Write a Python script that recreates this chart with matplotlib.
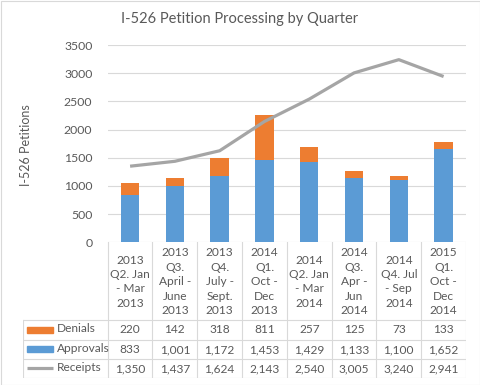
import numpy as np
import matplotlib.pyplot as plt
from matplotlib.patches import Rectangle

quarters = ["2013\nQ2. Jan\n- Mar\n2013", "2013\nQ3.\nApril -\nJune\n2013",
            "2013\nQ4.\nJuly -\nSept.\n2013", "2014\nQ1.\nOct -\nDec\n2013",
            "2014\nQ2. Jan\n- Mar\n2014", "2014\nQ3.\nApr -\nJun\n2014",
            "2014\nQ4. Jul\n- Sep\n2014", "2015\nQ1.\nOct -\nDec\n2014"]
denials = [220, 142, 318, 811, 257, 125, 73, 133]
approvals = [833, 1001, 1172, 1453, 1429, 1133, 1100, 1652]
receipts = [1350, 1437, 1624, 2143, 2540, 3005, 3240, 2941]

blue = "#5B9BD5"
orange = "#ED7D31"
gray = "#A5A5A5"
txt = "#595959"
grid = "#D9D9D9"

plt.rcParams['font.family'] = ['Lato', 'DejaVu Sans']

W, H = 481, 385
fig = plt.figure(figsize=(W / 100, H / 100), dpi=100)


def box(x0, y0, x1, y1):
    return [x0 / W, 1 - y1 / H, (x1 - x0) / W, (y1 - y0) / H]


fig.patches.append(Rectangle((0.5 / W, 0.5 / H), 1 - 1.5 / W, 1 - 1.5 / H,
                             transform=fig.transFigure, fill=False,
                             edgecolor=grid, lw=0.8))

x = np.arange(len(quarters))
ax = fig.add_axes(box(107.7, 45, 466, 242.3))
ax.bar(x, approvals, width=0.41, color=blue, zorder=2)
ax.bar(x, denials, width=0.41, bottom=approvals, color=orange, zorder=2)
ax.plot(x, receipts, color=gray, lw=2.3, zorder=3, solid_capstyle="butt")
ax.set_xlim(-0.5, len(quarters) - 0.5)
ax.set_ylim(0, 3500)
ax.set_yticks(np.arange(0, 3501, 500))
ax.set_xticks([])
ax.grid(axis="y", color=grid, lw=0.8, zorder=0)
for s in ax.spines.values():
    s.set_visible(False)
ax.tick_params(axis="y", length=0, pad=11, labelsize=8.8, labelcolor=txt)
fig.text(26 / W, 1 - 145 / H, "I-526 Petitions", rotation=90,
         ha="center", va="center", fontsize=9, color=txt)
fig.text(240 / W, 1 - 19 / H, "I-526 Petition Processing by Quarter",
         ha="center", va="center", fontsize=10.5, color=txt)

# data table under the chart
cw = (466 - 107.7) / len(quarters)
left = -0.5 - (107.7 - 23) / cw
tax = fig.add_axes(box(23, 242.3, 466, 378))
tax.set_xlim(left, len(quarters) - 0.5)
tax.set_ylim(378, 242.3)
tax.axis("off")
rows = [242.3, 320, 340, 359, 378]
for yy in rows[1:]:
    tax.plot([left, len(quarters) - 0.5], [yy, yy], color=grid, lw=0.8)
for i in range(len(quarters) + 1):
    tax.plot([i - 0.5, i - 0.5], [242.3, 378], color=grid, lw=0.8)
tax.plot([left, left], [320, 378], color=grid, lw=0.8)

for i, q in enumerate(quarters):
    tax.text(i, (rows[0] + rows[1]) / 2 + 0.5, q, ha="center", va="center",
             fontsize=8.6, color=txt, linespacing=1.38)

series = [("Denials", denials, orange, "bar"),
          ("Approvals", approvals, blue, "bar"),
          ("Receipts", receipts, gray, "line")]
kx0 = left + (27 - 23) / cw
kx1 = left + (53 - 23) / cw
for r, (name, vals, c, kind) in enumerate(series):
    yc = (rows[r + 1] + rows[r + 2]) / 2
    if kind == "bar":
        tax.add_patch(Rectangle((kx0, yc - 3), kx1 - kx0, 6, color=c))
    else:
        tax.plot([kx0, kx1], [yc, yc], color=c, lw=2.3, solid_capstyle="butt")
    tax.text(left + (57 - 23) / cw, yc - 1, name, ha="left", va="center",
             fontsize=8.6, color=txt)
    for i, v in enumerate(vals):
        tax.text(i, yc, f"{v:,}", ha="center", va="center", fontsize=8.6,
                 color=txt)

fig.savefig("out.png", dpi=100)
